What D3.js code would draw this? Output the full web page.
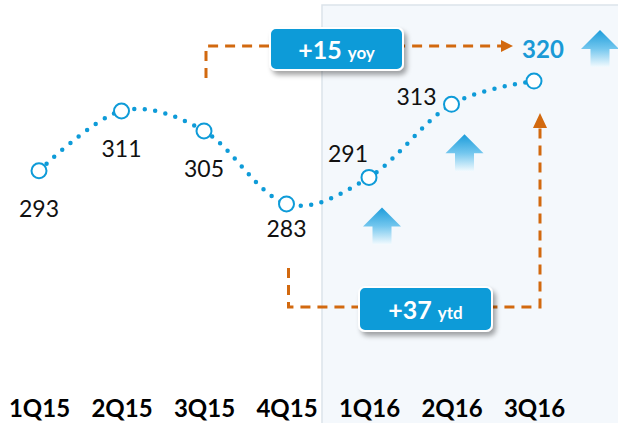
<!DOCTYPE html>
<html><head><meta charset="utf-8">
<script src="https://cdn.jsdelivr.net/npm/d3@7"></script>
<style>body{margin:0;background:#fff} svg{display:block}</style>
</head><body>
<svg id="c" width="618" height="423"></svg>
<script>
// ---- data ----
const categories = ["1Q15","2Q15","3Q15","4Q15","1Q16","2Q16","3Q16"];
const values = [293, 311, 305, 283, 291, 313, 320];
const yoy = {from: "3Q15", to: "3Q16", big: "+15", small: "yoy"};
const ytd = {from: "4Q15", to: "3Q16", big: "+37", small: "ytd"};
const upArrowCats = ["1Q16", "2Q16"];

// ---- placement (not data) ----
const labelOffsets = [[0,46],[0,46],[0,46],[0,33],[-21,-15],[-35,1],[9,-23]];

const BLUE = "#0E9BD8", ORANGE = "#D2690F";
const svg = d3.select("#c");
const defs = svg.append("defs");
const g1 = defs.append("linearGradient").attr("id","arrGrad").attr("x1",0).attr("y1",0).attr("x2",0).attr("y2",1);
g1.append("stop").attr("offset","0%").attr("stop-color","#1C9CDA");
g1.append("stop").attr("offset","50%").attr("stop-color","#72C6EE");
g1.append("stop").attr("offset","100%").attr("stop-color","#F2FAFE");
const f = defs.append("filter").attr("id","sh").attr("x","-20%").attr("y","-30%").attr("width","150%").attr("height","180%");
f.append("feDropShadow").attr("dx",3).attr("dy",4).attr("stdDeviation",2.5).attr("flood-color","#000").attr("flood-opacity",0.35);

const x = d3.scalePoint().domain(categories).range([39, 534]);
const y = d3.scaleLinear().domain([250, 330]).range([313.5, 47.9]);

// shaded panel
svg.append("rect").attr("x",322).attr("y",5).attr("width",300).attr("height",425)
  .attr("fill","#F4F8FC").attr("stroke","#DCE3EA").attr("stroke-width",1.5);

// decorative up arrows
function upArrow(cx, ty){
  const hw=19, sw=9.5, hh=19, H=37;
  return `M${cx},${ty} L${cx+hw},${ty+hh} L${cx+sw},${ty+hh} L${cx+sw},${ty+H} L${cx-sw},${ty+H} L${cx-sw},${ty+hh} L${cx-hw},${ty+hh} Z`;
}
upArrowCats.forEach(c => {
  const i = categories.indexOf(c);
  svg.append("path").attr("d", upArrow(x(c)+13, y(values[i])+30)).attr("fill","url(#arrGrad)");
});
svg.append("path").attr("d", upArrow(x(yoy.to)+66, 30)).attr("fill","url(#arrGrad)");

// dashed brackets
const dash = "10,7";
const yoyX0 = x(yoy.from)+2, yoyEnd = x(yoy.to)-21;
svg.append("path").attr("d",`M${yoyX0},${y(values[categories.indexOf(yoy.from)])-53} V46 H${yoyEnd-11}`)
  .attr("fill","none").attr("stroke",ORANGE).attr("stroke-width",3).attr("stroke-dasharray",dash);
svg.append("path").attr("d",`M${yoyEnd-12},40 L${yoyEnd},46 L${yoyEnd-12},52 Z`).attr("fill",ORANGE);

const ytdX0 = x(ytd.from)+2, ytdX1 = x(ytd.to)+6;
svg.append("path").attr("d",`M${ytdX0},${y(values[categories.indexOf(ytd.from)])+64} V307 H${ytdX1} V127`)
  .attr("fill","none").attr("stroke",ORANGE).attr("stroke-width",3).attr("stroke-dasharray",dash);
svg.append("path").attr("d",`M${ytdX1-7},128 L${ytdX1},113 L${ytdX1+7},128 Z`).attr("fill",ORANGE);

// dotted smooth line
const pts = categories.map((c,i)=>[x(c), y(values[i])]);
svg.append("path").attr("d", d3.line().curve(d3.curveCardinal.tension(0))(pts))
  .attr("fill","none").attr("stroke",BLUE).attr("stroke-width",4.5)
  .attr("stroke-linecap","round").attr("stroke-dasharray","0 10.5");

svg.selectAll("circle.pt").data(pts).join("circle").attr("class","pt")
  .attr("cx",d=>d[0]).attr("cy",d=>d[1]).attr("r",7.5)
  .attr("fill","#fff").attr("stroke",BLUE).attr("stroke-width",2);

// value labels
svg.selectAll("text.val").data(values).join("text").attr("class","val")
  .attr("x",(d,i)=>pts[i][0]+labelOffsets[i][0])
  .attr("y",(d,i)=>pts[i][1]+labelOffsets[i][1])
  .attr("text-anchor","middle")
  .attr("font-family","Lato, 'Open Sans', sans-serif")
  .attr("font-size",(d,i)=>i===values.length-1?24:23)
  .attr("font-weight",(d,i)=>i===values.length-1?700:400)
  .attr("fill",(d,i)=>i===values.length-1?"#1A9AD6":"#111")
  .text(d=>d);

// callout boxes
function box(bx, by, bw, bh, big, small, base){
  svg.append("rect").attr("x",bx).attr("y",by).attr("width",bw).attr("height",bh).attr("rx",6)
    .attr("fill",BLUE).attr("stroke","#fff").attr("stroke-width",2).attr("filter","url(#sh)");
  const t = svg.append("text").attr("x",bx+bw/2).attr("y",base).attr("text-anchor","middle")
    .attr("font-family","Lato, sans-serif").attr("font-weight",700).attr("fill","#fff");
  t.append("tspan").attr("font-size",25).text(big);
  t.append("tspan").attr("font-size",17).attr("dx",6).text(small);
}
box(270, 28, 133, 42, yoy.big, yoy.small, 59);
box(359, 287, 133, 44, ytd.big, ytd.small, 319);

// x axis
const ax = svg.append("g").attr("transform","translate(0,398)")
  .call(d3.axisBottom(x).tickSize(0).tickPadding(0));
ax.select(".domain").remove();
ax.selectAll("text").attr("font-family","Lato, sans-serif").attr("font-size",24)
  .attr("font-weight",700).attr("fill","#000").attr("dy","0.8em");
</script>
</body></html>
